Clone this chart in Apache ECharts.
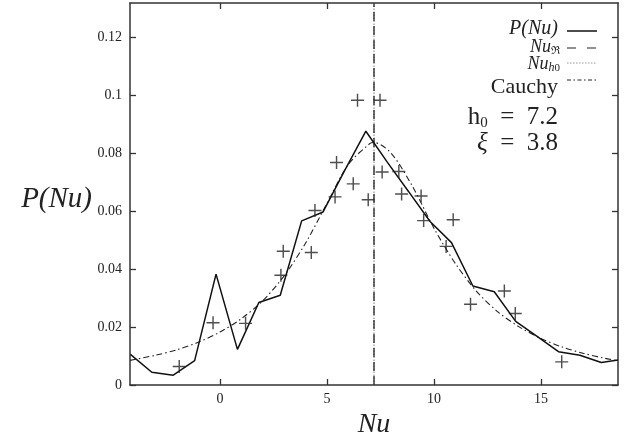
<!DOCTYPE html>
<html>
<head>
<meta charset="utf-8">
<script src="https://cdn.jsdelivr.net/npm/echarts@6/dist/echarts.min.js"></script>
<style>
html,body{margin:0;padding:0;background:#fff;}
#c{width:634px;height:433px;}
</style>
</head>
<body>
<div id="c"></div>
<script>
// ---- data ----
const xTicks = [0, 5, 10, 15];
const yTicks = [0, 0.02, 0.04, 0.06, 0.08, 0.1, 0.12];
const xMin = -4.2, xMax = 18.6, yMin = 0, yMax = 0.132;

// P(Nu) histogram-like solid line
const pnuX = [-4.18, -3.18, -2.18, -1.18, -0.18, 0.82, 1.82, 2.82, 3.82, 4.82, 5.82, 6.82,
              7.82, 8.82, 9.82, 10.82, 11.82, 12.82, 13.82, 14.82, 15.82, 16.82, 17.82, 18.6];
const pnuY = [0.0106, 0.0044, 0.0034, 0.0084, 0.0383, 0.0123, 0.0285, 0.0310, 0.0567, 0.0598, 0.0740, 0.0877,
              0.0770, 0.0668, 0.0565, 0.0492, 0.0342, 0.0322, 0.0220, 0.0168, 0.0115, 0.0103, 0.0078, 0.0086];

// '+' markers
const crossX = [-1.9, -0.32, 1.2, 2.85, 2.96, 4.27, 4.44, 5.38, 5.45, 6.23, 6.43, 6.93,
                7.48, 7.58, 8.36, 8.49, 9.4, 9.52, 10.57, 10.9, 11.71, 13.29, 13.8, 15.97];
const crossY = [0.0064, 0.0215, 0.0213, 0.0379, 0.0462, 0.0458, 0.0603, 0.0650, 0.0769, 0.0695, 0.0984, 0.0640,
                0.0984, 0.0736, 0.0738, 0.0660, 0.0653, 0.0568, 0.0479, 0.0571, 0.0279, 0.0325, 0.0247, 0.0080];

// Cauchy curve (dash-dot)
const cauchyX = [-4.2, -3, -2, -1, 0, 1, 2, 3, 4, 5, 6, 7, 7.2, 8, 9, 10, 11, 12, 13, 14, 15, 16, 17, 18, 18.6];
const cauchyY = [0.0085, 0.0103, 0.0122, 0.0148, 0.0183, 0.0229, 0.0291, 0.0377, 0.0490, 0.0627, 0.0762, 0.0834, 0.0838,
                 0.0801, 0.0686, 0.0542, 0.0420, 0.0323, 0.0252, 0.0200, 0.0161, 0.0131, 0.0109, 0.0092, 0.0084];

// vertical reference lines
const nuR = 7.2;   // Nu_R (dashed)
const nuH0 = 7.2;  // Nu_h0 (dotted)

const yTitle = 'P(Nu)';
const xTitle = 'Nu';
const legendLabels = ['P(Nu)', 'Nu', 'ℜ', 'Nu', 'h0', 'Cauchy'];
const paramText = { h0: '7.2', xi: '3.8' };

// ---- chart ----
const zip = (a, b) => a.map((v, i) => [v, b[i]]);
const serif = '"Liberation Serif", "DejaVu Serif", serif';
const frame = '#333';
const ink = '#111';
const sp = '\u2002';

const chart = echarts.init(document.getElementById('c'), null, { renderer: 'canvas' });

const plusPath = 'path://M0,4.45L10,4.45L10,5.55L0,5.55Z M4.45,0L5.55,0L5.55,10L4.45,10Z';

const option = {
  animation: false,
  backgroundColor: '#fff',
  grid: { left: 130, right: 16, top: 3, bottom: 48, containLabel: false, outerBoundsMode: 'none' },
  xAxis: [
    {
      type: 'value', min: xMin, max: xMax, position: 'bottom',
      axisLine: { show: true, onZero: false, lineStyle: { color: frame, width: 1.5 } },
      axisTick: { show: true, inside: true, length: 6, customValues: xTicks, lineStyle: { color: frame, width: 1.3 } },
      axisLabel: { customValues: xTicks, fontFamily: serif, fontSize: 14, color: '#222', margin: 7 },
      splitLine: { show: false },
      name: xTitle, nameLocation: 'middle', nameGap: 16,
      nameTextStyle: { fontFamily: serif, fontStyle: 'italic', fontSize: 28, color: '#222' }
    },
    {
      type: 'value', min: xMin, max: xMax, position: 'top',
      axisLine: { show: true, onZero: false, lineStyle: { color: frame, width: 1.5 } },
      axisTick: { show: true, inside: true, length: 6, customValues: xTicks, lineStyle: { color: frame, width: 1.3 } },
      axisLabel: { show: false },
      splitLine: { show: false }
    }
  ],
  yAxis: [
    {
      type: 'value', min: yMin, max: yMax, position: 'left',
      axisLine: { show: true, onZero: false, lineStyle: { color: frame, width: 1.5 } },
      axisTick: { show: true, inside: true, length: 6, customValues: yTicks, lineStyle: { color: frame, width: 1.3 } },
      axisLabel: { customValues: yTicks, fontFamily: serif, fontSize: 14, color: '#222', margin: 8 },
      splitLine: { show: false }
    },
    {
      type: 'value', min: yMin, max: yMax, position: 'right',
      axisLine: { show: true, onZero: false, lineStyle: { color: frame, width: 1.5 } },
      axisTick: { show: true, inside: true, length: 6, customValues: yTicks, lineStyle: { color: frame, width: 1.3 } },
      axisLabel: { show: false },
      splitLine: { show: false }
    }
  ],
  series: [
    {
      name: 'Nu_h0', type: 'line', xAxisIndex: 0, yAxisIndex: 0, symbol: 'none',
      data: [[nuH0, yMin], [nuH0, yMax]],
      lineStyle: { color: '#9a9a9a', width: 1.3, type: [1.5, 1.5] }, z: 2
    },
    {
      name: 'Nu_R', type: 'line', xAxisIndex: 0, yAxisIndex: 0, symbol: 'none',
      data: [[nuR, yMin], [nuR, yMax]],
      lineStyle: { color: '#222', width: 1.3, type: [9, 5] }, z: 3
    },
    {
      name: 'Cauchy', type: 'line', xAxisIndex: 0, yAxisIndex: 0, symbol: 'none', smooth: 0.3,
      data: zip(cauchyX, cauchyY),
      lineStyle: { color: '#222', width: 1.1, type: [6, 3, 1.5, 3] }, z: 4
    },
    {
      name: 'P(Nu)', type: 'line', xAxisIndex: 0, yAxisIndex: 0, symbol: 'none',
      data: zip(pnuX, pnuY),
      lineStyle: { color: ink, width: 1.5 }, z: 5
    },
    {
      name: 'data', type: 'scatter', xAxisIndex: 0, yAxisIndex: 0,
      symbol: plusPath, symbolSize: 13,
      itemStyle: { color: '#222' },
      data: zip(crossX, crossY), z: 6
    }
  ],
  graphic: [
    // y-axis title
    { type: 'text', x: 92, y: 199, style: { text: yTitle, font: 'italic 29px ' + serif, fill: '#222', align: 'right', verticalAlign: 'middle' } },
    // legend texts (right aligned)
    { type: 'text', x: 558, y: 29, style: { text: legendLabels[0], font: 'italic 20px ' + serif, fill: '#222', align: 'right', verticalAlign: 'middle' } },
    { type: 'line', shape: { x1: 567, y1: 31, x2: 597, y2: 31 }, style: { stroke: ink, lineWidth: 1.5 } },
    {
      type: 'text', x: 560, y: 47,
      style: {
        text: '{a|' + legendLabels[1] + '}{s|' + legendLabels[2] + '}',
        align: 'right', verticalAlign: 'middle', fill: '#222',
        rich: {
          a: { fontFamily: serif, fontStyle: 'italic', fontSize: 18, lineHeight: 19, verticalAlign: 'middle' },
          s: { fontFamily: serif, fontSize: 11, lineHeight: 19, verticalAlign: 'bottom' }
        }
      }
    },
    { type: 'line', shape: { x1: 567, y1: 48, x2: 597, y2: 48 }, style: { stroke: '#222', lineWidth: 1.2, lineDash: [9, 11] } },
    {
      type: 'text', x: 560, y: 64,
      style: {
        text: '{a|' + legendLabels[3] + '}{s|h}{t|0}',
        align: 'right', verticalAlign: 'middle', fill: '#222',
        rich: {
          a: { fontFamily: serif, fontStyle: 'italic', fontSize: 18, lineHeight: 19, verticalAlign: 'middle' },
          s: { fontFamily: serif, fontStyle: 'italic', fontSize: 12, lineHeight: 19, verticalAlign: 'bottom' },
          t: { fontFamily: serif, fontSize: 11, lineHeight: 19, verticalAlign: 'bottom' }
        }
      }
    },
    { type: 'line', shape: { x1: 567, y1: 63, x2: 597, y2: 63 }, style: { stroke: '#999', lineWidth: 1, lineDash: [1.5, 1.5] } },
    { type: 'text', x: 558, y: 87, style: { text: legendLabels[5], font: '22px ' + serif, fill: '#222', align: 'right', verticalAlign: 'middle' } },
    { type: 'line', shape: { x1: 567, y1: 80, x2: 597, y2: 80 }, style: { stroke: '#222', lineWidth: 1, lineDash: [4, 2.5, 1.5, 2.5] } },
    {
      type: 'text', x: 558, y: 117,
      style: {
        text: '{a|h}{s|0}{a|' + sp + '=' + sp + paramText.h0 + '}',
        align: 'right', verticalAlign: 'middle', fill: '#222',
        rich: {
          a: { fontFamily: serif, fontSize: 25, lineHeight: 28, verticalAlign: 'middle' },
          s: { fontFamily: serif, fontSize: 15, lineHeight: 28, verticalAlign: 'bottom' }
        }
      }
    },
    {
      type: 'text', x: 558, y: 143,
      style: {
        text: '{i|ξ}{a|' + sp + '=' + sp + paramText.xi + '}',
        align: 'right', verticalAlign: 'middle', fill: '#222',
        rich: {
          i: { fontFamily: serif, fontStyle: 'italic', fontSize: 25, lineHeight: 28 },
          a: { fontFamily: serif, fontSize: 25, lineHeight: 28 }
        }
      }
    }
  ]
};
chart.setOption(option);
</script>
</body>
</html>
